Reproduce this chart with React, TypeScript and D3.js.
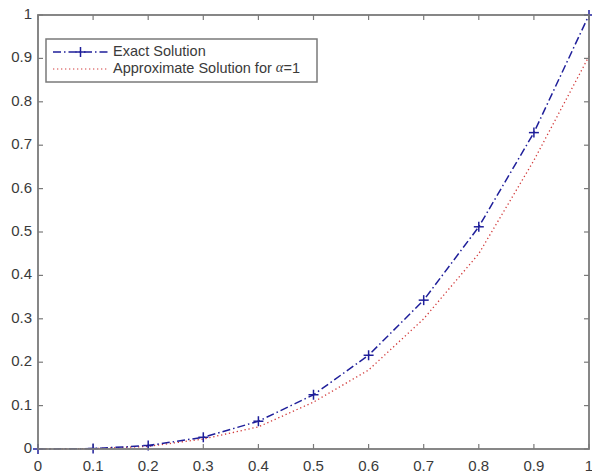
import React from "react";
import * as d3 from "d3";

const xValues = [0, 0.1, 0.2, 0.3, 0.4, 0.5, 0.6, 0.7, 0.8, 0.9, 1];
const exactValues = [0, 0.001, 0.008, 0.027, 0.064, 0.125, 0.216, 0.343, 0.512, 0.729, 1];
const approxValues = [0, 0.0008, 0.006, 0.023, 0.051, 0.108, 0.182, 0.3, 0.45, 0.665, 0.905];
const xTicks = [0, 0.1, 0.2, 0.3, 0.4, 0.5, 0.6, 0.7, 0.8, 0.9, 1];
const yTicks = [0, 0.1, 0.2, 0.3, 0.4, 0.5, 0.6, 0.7, 0.8, 0.9, 1];
const legendLabels = ["Exact Solution", "Approximate Solution for "];

const W = 592;
const H = 476;
const L = 38, R = 589, T = 15, B = 449;
const font = "'Liberation Sans', Arial, sans-serif";
const axisColor = "#7a7a7a";
const textColor = "#3a3a3a";
const blue = "#1f1f9a";
const red = "#d23c3c";

export default function App() {
  const x = d3.scaleLinear().domain([0, 1]).range([L, R]);
  const y = d3.scaleLinear().domain([0, 1]).range([B, T]);
  const line = d3.line<number>().x((_, i) => x(xValues[i])).y((d) => y(d));
  const fmt = (v: number) => (v === 0 ? "0" : v === 1 ? "1" : d3.format(".1f")(v));
  const tk = 5;
  return (
    <svg width={W} height={H} style={{ position: "absolute", left: 0, top: 0, background: "#fff" }}>
      <rect x={0} y={0} width={W} height={H} fill="#fff" />
      {/* ticks */}
      {xTicks.map((t) => (
        <g key={"x" + t}>
          <line x1={x(t)} x2={x(t)} y1={B} y2={B - tk} stroke={axisColor} strokeWidth={1.2} />
          <line x1={x(t)} x2={x(t)} y1={T} y2={T + tk} stroke={axisColor} strokeWidth={1.2} />
          <text x={x(t)} y={467} textAnchor="middle" dominantBaseline="middle" fontFamily={font} fontSize={15} fill={textColor}>
            {fmt(t)}
          </text>
        </g>
      ))}
      {yTicks.map((t) => (
        <g key={"y" + t}>
          <line x1={L} x2={L + tk} y1={y(t)} y2={y(t)} stroke={axisColor} strokeWidth={1.2} />
          <line x1={R} x2={R - tk} y1={y(t)} y2={y(t)} stroke={axisColor} strokeWidth={1.2} />
          <text x={32} y={y(t)} textAnchor="end" dominantBaseline="middle" fontFamily={font} fontSize={15} fill={textColor}>
            {fmt(t)}
          </text>
        </g>
      ))}
      {/* series */}
      <path d={line(approxValues) || ""} fill="none" stroke={red} strokeWidth={1.3} strokeDasharray="1.3 2.7" />
      <path d={line(exactValues) || ""} fill="none" stroke={blue} strokeWidth={1.5} strokeDasharray="8 3 1.5 3" />
      {exactValues.map((v, i) => (
        <g key={"m" + i} stroke={blue} strokeWidth={1.5}>
          <line x1={x(xValues[i]) - 5} x2={x(xValues[i]) + 5} y1={y(v)} y2={y(v)} />
          <line x1={x(xValues[i])} x2={x(xValues[i])} y1={y(v) - 5} y2={y(v) + 5} />
        </g>
      ))}
      {/* frame */}
      <rect x={L} y={T} width={R - L} height={B - T} fill="none" stroke={axisColor} strokeWidth={1.8} />
      {/* legend */}
      <g>
        <rect x={46} y={39} width={271} height={43} fill="#fff" stroke={axisColor} strokeWidth={1.5} />
        <line x1={53} x2={108} y1={52} y2={52} stroke={blue} strokeWidth={1.5} strokeDasharray="8 3 1.5 3" />
        <line x1={75.5} x2={85.5} y1={52} y2={52} stroke={blue} strokeWidth={1.5} />
        <line x1={80.5} x2={80.5} y1={47} y2={57} stroke={blue} strokeWidth={1.5} />
        <text x={113} y={52} dominantBaseline="middle" fontFamily={font} fontSize={14.5} fill={textColor}>
          {legendLabels[0]}
        </text>
        <line x1={53} x2={108} y1={69} y2={69} stroke={red} strokeWidth={1.2} strokeDasharray="1.3 2.7" />
        <text x={113} y={69} dominantBaseline="middle" fontFamily={font} fontSize={14.5} fill={textColor}>
          {legendLabels[1]}
          <tspan fontFamily="'Liberation Serif', serif" fontStyle="italic">α</tspan>
          <tspan>=1</tspan>
        </text>
      </g>
    </svg>
  );
}
